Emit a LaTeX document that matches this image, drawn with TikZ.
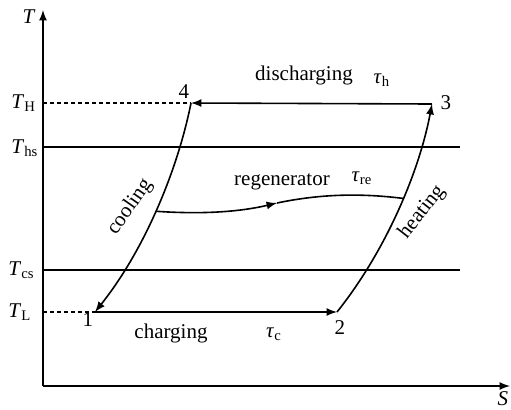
\documentclass[tikz,border=0pt]{standalone}
\usepackage{fontspec}
\setmainfont{Liberation Serif}
\begin{document}
\begin{tikzpicture}[x=0.5pt, y=-0.5pt, every node/.style={font=\fontsize{10.5}{12}\selectfont, inner sep=1pt}]
                    \useasboundingbox (0,0) rectangle (511,409);
                    % axes and levels
                    \draw[thick, -latex] (43,386) -- (43,10);
                    \draw[thick, -latex] (43,386) -- (510,386);
                    \draw[thick] (43,147) -- (460,147);
                    \draw[thick] (43,270) -- (460,270);
                    \coordinate (p1) at (95,312); \coordinate (p2) at (337,312);
                    \coordinate (p3) at (432,104); \coordinate (p4) at (191,103);
                    \draw[thick, dash pattern=on 2pt off 1.5pt] (43,103) -- (p4);
                    \draw[thick, dash pattern=on 2pt off 1.5pt] (43,312) -- (p1);
                    % cycle
                    \draw[thick, -latex] (p1) -- (p2);
                    \draw[thick, -latex] (p2) .. controls (385,252) and (419,173) .. (p3) coordinate[pos=0.56] (hw);
                    \draw[thick, -latex] (p3) -- (p4);
                    \draw[thick, -latex] (p4) .. controls (177,173) and (143,252) .. (p1) coordinate[pos=0.5] (cw);
                    \coordinate (rm) at (277,203);
                    \draw[thick, -latex] (cw) .. controls (195,214) and (235,213) .. (rm);
                    \draw[thick] (rm) .. controls (320,194) and (360,193) .. (hw);
                    % labels
                    \node (tlab) at (29,17) {\textit{T}};
                    \node (slab) at (503,399) {\textit{S}};
                    \node[anchor=base west] (tH) at (9,108) {\textit{T}\textsubscript{H}};
                    \node[anchor=base west] (ths) at (9,153) {\textit{T}\textsubscript{hs}};
                    \node[anchor=base west] (tcs) at (6,275) {\textit{T}\textsubscript{cs}};
                    \node[anchor=base west] (tL) at (6,317) {\textit{T}\textsubscript{L}};
                    \node (n1) at (88,320) {1}; \node (n2) at (340,328) {2};
                    \node (n3) at (446,103) {3}; \node (n4) at (184,92) {4};
                    \node (dis) at (304,75) {discharging};
                    \node (tauh) at (382,80) {\textit{τ}\textsubscript{h}};
                    \node (reg) at (282,182) {regenerator};
                    \node (taure) at (362,178) {\textit{τ}\textsubscript{re}};
                    \node (chg) at (171,333) {charging};
                    \node (tauc) at (274,334) {\textit{τ}\textsubscript{c}};
                    \node[rotate=55] (cool) at (130,207) {cooling};
                    \node[rotate=52] (heat) at (422,212) {heating};
                \end{tikzpicture}
\end{document}
